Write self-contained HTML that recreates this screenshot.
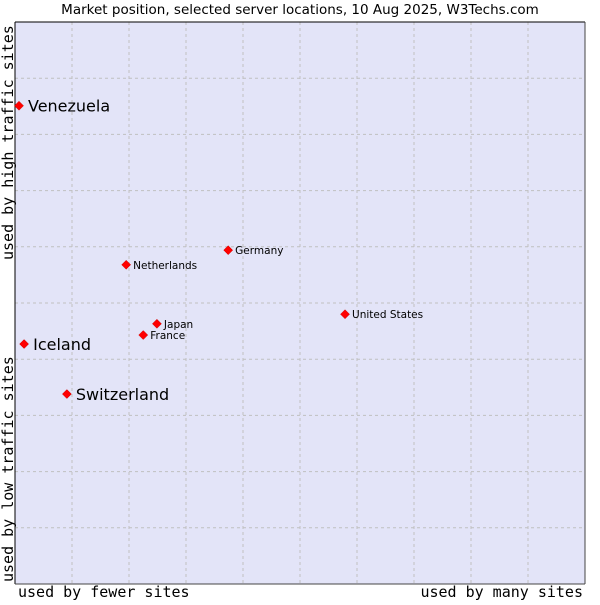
<!DOCTYPE html>
<html><head><meta charset="utf-8"><style>
body{margin:0;background:#fff;}
svg text{font-family:"DejaVu Sans","Liberation Sans",sans-serif;fill:#000;}
.mono{font-family:"DejaVu Sans Mono","Liberation Mono",monospace !important;}
</style></head><body>
<svg id="chart" width="600" height="600" xmlns="http://www.w3.org/2000/svg">
<text x="300" y="14" text-anchor="middle" font-size="13.5" fill="#222">Market position, selected server locations, 10 Aug 2025, W3Techs.com</text>
<rect x="15" y="22" width="570" height="562" fill="#e3e4f8"/>
<g id="grid"></g>
<line x1="15" y1="22" x2="585" y2="22" stroke="#000"/>
<line x1="15" y1="22" x2="15" y2="584" stroke="#000"/>
<line x1="585" y1="22" x2="585" y2="584" stroke="#444"/>
<line x1="15" y1="584" x2="585" y2="584" stroke="#444"/>
<g id="points"></g>
<text class="mono" x="18" y="597" font-size="15">used by fewer sites</text>
<text class="mono" x="583" y="597" font-size="15" text-anchor="end">used by many sites</text>
<text class="mono" transform="translate(13,260) rotate(-90)" font-size="15">used by high traffic sites</text>
<text class="mono" transform="translate(13,582) rotate(-90)" font-size="15">used by low traffic sites</text>
</svg>
<script>
const names=["Venezuela","Iceland","Switzerland","Netherlands","Germany","Japan","France","United States"];
const xVals=[0.7,1.6,9.1,19.5,37.4,24.9,22.5,57.9];
const yVals=[85.1,42.7,33.8,56.8,59.4,46.3,44.3,48.0];
const bigLabel=[true,true,true,false,false,false,false,false];
const ns="http://www.w3.org/2000/svg";
const X0=15,X1=585,Y0=584,Y1=22;
const xs=v=>X0+v/100*(X1-X0);
const ys=v=>Y0-v/100*(Y0-Y1);
const grid=document.getElementById('grid');
for(let i=1;i<10;i++){
  const v=document.createElementNS(ns,'line');
  v.setAttribute('x1',xs(i*10));v.setAttribute('x2',xs(i*10));v.setAttribute('y1',Y1);v.setAttribute('y2',Y0);
  v.setAttribute('stroke','#c0c0c0');v.setAttribute('stroke-dasharray','3,3');
  
  
  grid.appendChild(v);
  const h=document.createElementNS(ns,'line');
  h.setAttribute('y1',ys(i*10));h.setAttribute('y2',ys(i*10));h.setAttribute('x1',X0);h.setAttribute('x2',X1);
  h.setAttribute('stroke','#c0c0c0');h.setAttribute('stroke-dasharray','3,3');
  
  
  grid.appendChild(h);
}
const pts=document.getElementById('points');
names.forEach((n,i)=>{
  const cx=xs(xVals[i]),cy=ys(yVals[i]);
  const d=document.createElementNS(ns,'path');
  const r=4.5;
  d.setAttribute('d',`M${cx},${cy-r}L${cx+r},${cy}L${cx},${cy+r}L${cx-r},${cy}Z`);
  d.setAttribute('fill','#ff0000');d.setAttribute('stroke','#c00');d.setAttribute('stroke-width','0.5');
  
  
  pts.appendChild(d);
  const t=document.createElementNS(ns,'text');
  t.setAttribute('x',cx+(bigLabel[i]?9:7));
  t.setAttribute('y',cy+(bigLabel[i]?6:4));
  t.setAttribute('font-size',bigLabel[i]?'16':'10.5');
  t.textContent=n;
  
  
  pts.appendChild(t);
});
</script>
</body></html>
